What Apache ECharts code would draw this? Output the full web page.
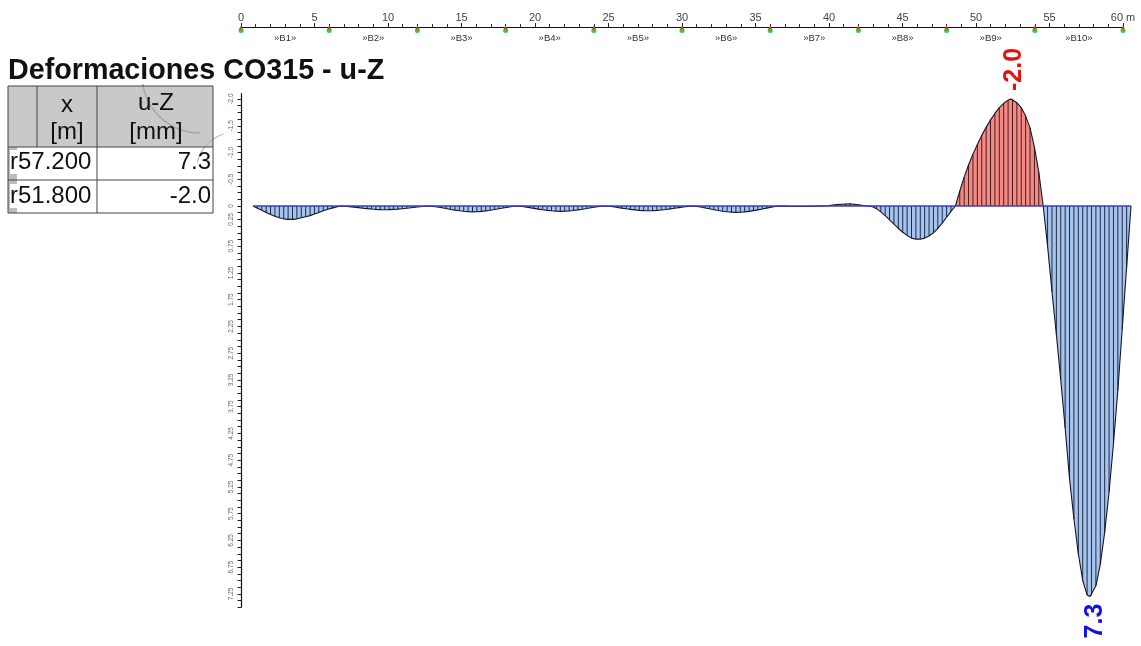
<!DOCTYPE html>
<html>
<head>
<meta charset="utf-8">
<script src="https://cdn.jsdelivr.net/npm/echarts@6/dist/echarts.min.js"></script>
<style>html,body{margin:0;padding:0;background:#fff;}#c{width:1141px;height:646px;}</style>
</head>
<body>
<div id="c"></div>
<script>
// ---- DATA ----
const titleText = 'Deformaciones CO315 - u-Z';
const tableHeader = [['x', '[m]'], ['u-Z', '[mm]']];
const tableRowsX = ['r57.200', 'r51.800'];
const tableRowsU = ['7.3', '-2.0'];
const extremeX = [57.2, 51.8];
const extremeU = [7.3, -2.0];

const rulerTicks = [0, 5, 10, 15, 20, 25, 30, 35, 40, 45, 50, 55, 60];
const supports = [0, 6, 12, 18, 24, 30, 36, 42, 48, 54, 60];
const spanCenters = [3, 9, 15, 21, 27, 33, 39, 45, 51, 57];
const spanLabels = ['»B1»', '»B2»', '»B3»', '»B4»', '»B5»', '»B6»', '»B7»', '»B8»', '»B9»', '»B10»'];

const yTickValues = [-2, -1.5, -1, -0.5, 0, 0.25, 0.75, 1.25, 1.75, 2.25, 2.75, 3.25, 3.75, 4.25, 4.75, 5.25, 5.75, 6.25, 6.75, 7.25];
const yTickLabels = ['-2.0', '-1.5', '-1.0', '-0.5', '0', '0.25', '0.75', '1.25', '1.75', '2.25', '2.75', '3.25', '3.75', '4.25', '4.75', '5.25', '5.75', '6.25', '6.75', '7.25'];

// u-Z [mm] read every 0.3 m, per span (stations 0.3 .. 6.0 of each span)
const uStart = [0];
const uSpan1 = [0.04, 0.08, 0.12, 0.16, 0.19, 0.22, 0.24, 0.25, 0.25, 0.24, 0.22, 0.2, 0.18, 0.15, 0.12, 0.09, 0.06, 0.04, 0.02, 0];
const uSpan2 = [0.004, 0.012, 0.021, 0.031, 0.041, 0.049, 0.057, 0.063, 0.067, 0.07, 0.068, 0.064, 0.058, 0.05, 0.042, 0.033, 0.023, 0.014, 0.006, 0];
const uSpan3 = [0.007, 0.019, 0.033, 0.048, 0.064, 0.077, 0.089, 0.099, 0.106, 0.11, 0.107, 0.1, 0.091, 0.079, 0.066, 0.052, 0.036, 0.022, 0.009, 0];
const uSpan4 = [0.006, 0.017, 0.03, 0.044, 0.058, 0.07, 0.081, 0.09, 0.096, 0.1, 0.097, 0.091, 0.083, 0.072, 0.06, 0.047, 0.033, 0.02, 0.008, 0];
const uSpan5 = [0.005, 0.015, 0.027, 0.04, 0.052, 0.063, 0.073, 0.081, 0.086, 0.09, 0.087, 0.082, 0.075, 0.065, 0.054, 0.042, 0.03, 0.018, 0.007, 0];
const uSpan6 = [0.007, 0.02, 0.036, 0.053, 0.07, 0.084, 0.097, 0.108, 0.115, 0.12, 0.116, 0.109, 0.1, 0.086, 0.072, 0.056, 0.04, 0.024, 0.01, 0];
const uSpan7 = [0.003, 0.006, 0.008, 0.009, 0.009, 0.008, 0.007, 0.005, 0.002, 0, -0.006, -0.016, -0.026, -0.034, -0.038, -0.039, -0.034, -0.023, -0.008, 0];
const uSpan8 = [0.01, 0.05, 0.11, 0.18, 0.26, 0.34, 0.42, 0.49, 0.55, 0.6, 0.62, 0.62, 0.6, 0.56, 0.5, 0.42, 0.32, 0.21, 0.1, 0];
const uSpan9 = [-0.28, -0.54, -0.77, -0.97, -1.15, -1.32, -1.47, -1.61, -1.73, -1.84, -1.92, -1.98, -1.99, -1.93, -1.84, -1.68, -1.46, -1.1, -0.63, 0];
const uSpan10 = [0.75, 1.6, 2.4, 3.25, 4.15, 5.1, 5.85, 6.5, 7.0, 7.27, 7.28, 7.1, 6.7, 6.1, 5.35, 4.45, 3.45, 2.3, 1.15, 0];

// ---- BUILD ----
const uValues = [].concat(uStart, uSpan1, uSpan2, uSpan3, uSpan4, uSpan5, uSpan6, uSpan7, uSpan8, uSpan9, uSpan10);
const stations = uValues.map((v, i) => [Math.round(i * 3) / 10, v]);
const merged = stations.concat(extremeX.map((x, i) => [x, extremeU[i]])).sort((a, b) => a[0] - b[0]);
const posData = merged.map(p => [p[0], Math.max(p[1], 0)]);
const negData = merged.map(p => [p[0], Math.min(p[1], 0)]);
const fineTicks = [];
for (let i = 0; i <= 76; i++) fineTicks.push(-2 + i * 0.125);

const FONT = 'Liberation Sans, Arial, sans-serif';
const chart = echarts.init(document.getElementById('c'));

const tblL = 8, tblR = 213, tblT = 86, hdrB = 147, row1B = 180, tblB = 213, col1 = 37, col2 = 97;
const graphics = [
  {type: 'text', left: 8, top: 57, style: {text: titleText, font: 'bold 28.7px ' + FONT, fill: '#111'}},
  {type: 'rect', shape: {x: tblL, y: tblT, width: tblR - tblL, height: hdrB - tblT}, style: {fill: '#c9c9c9'}},
  {type: 'rect', shape: {x: tblL, y: hdrB, width: tblR - tblL, height: tblB - hdrB}, style: {fill: '#fff'}},
  {type: 'rect', shape: {x: tblL, y: hdrB, width: 9, height: tblB - hdrB}, style: {fill: '#bcbcbc'}},
  {type: 'arc', shape: {cx: 200, cy: 75, r: 58, startAngle: Math.PI * 0.5, endAngle: Math.PI * 0.95}, style: {stroke: '#a8a8a8', lineWidth: 1.5, fill: null}},
  {type: 'arc', shape: {cx: 236, cy: 172, r: 40, startAngle: Math.PI * 1.08, endAngle: Math.PI * 1.4}, style: {stroke: '#b5b5b5', lineWidth: 1.2, fill: null}},
  {type: 'rect', shape: {x: tblL, y: tblT, width: tblR - tblL, height: tblB - tblT}, style: {fill: null, stroke: '#444', lineWidth: 1}},
  {type: 'line', shape: {x1: tblL, y1: hdrB, x2: tblR, y2: hdrB}, style: {stroke: '#444', lineWidth: 1}},
  {type: 'line', shape: {x1: tblL, y1: row1B, x2: tblR, y2: row1B}, style: {stroke: '#444', lineWidth: 1}},
  {type: 'line', shape: {x1: col1, y1: tblT, x2: col1, y2: hdrB}, style: {stroke: '#444', lineWidth: 1}},
  {type: 'line', shape: {x1: col2, y1: tblT, x2: col2, y2: tblB}, style: {stroke: '#444', lineWidth: 1}},
  {type: 'text', x: 67, y: 105, style: {text: tableHeader[0][0], font: '24px ' + FONT, fill: '#111', textAlign: 'center', textVerticalAlign: 'middle'}},
  {type: 'text', x: 67, y: 132, style: {text: tableHeader[0][1], font: '24px ' + FONT, fill: '#111', textAlign: 'center', textVerticalAlign: 'middle'}},
  {type: 'text', x: 156, y: 103, style: {text: tableHeader[1][0], font: '24px ' + FONT, fill: '#111', textAlign: 'center', textVerticalAlign: 'middle'}},
  {type: 'text', x: 156, y: 132, style: {text: tableHeader[1][1], font: '24px ' + FONT, fill: '#111', textAlign: 'center', textVerticalAlign: 'middle'}},
  {type: 'text', x: 10, y: 162, style: {text: tableRowsX[0], font: '24px ' + FONT, fill: '#111', textAlign: 'left', textVerticalAlign: 'middle', backgroundColor: '#fff'}},
  {type: 'text', x: 211, y: 162, style: {text: tableRowsU[0], font: '24px ' + FONT, fill: '#111', textAlign: 'right', textVerticalAlign: 'middle'}},
  {type: 'text', x: 10, y: 196, style: {text: tableRowsX[1], font: '24px ' + FONT, fill: '#111', textAlign: 'left', textVerticalAlign: 'middle', backgroundColor: '#fff'}},
  {type: 'text', x: 211, y: 196, style: {text: tableRowsU[1], font: '24px ' + FONT, fill: '#111', textAlign: 'right', textVerticalAlign: 'middle'}}
];

const option = {
  animation: false,
  backgroundColor: '#fff',
  graphic: graphics,
  grid: [
    {left: 241, right: 18, top: 27, height: 20},
    {left: 253, right: 10, top: 93.65, bottom: 38.75}
  ],
  xAxis: [
    {
      gridIndex: 0, type: 'value', position: 'top', min: 0, max: 60, interval: 5,
      axisLine: {show: true, onZero: false, lineStyle: {color: '#111', width: 1}},
      axisTick: {show: true, length: 4, lineStyle: {color: '#222'}},
      minorTick: {show: true, splitNumber: 5, length: 3, lineStyle: {color: '#333'}},
      splitLine: {show: false},
      axisLabel: {fontSize: 11, color: '#444', margin: 4, fontFamily: FONT,
        formatter: v => (rulerTicks.indexOf(v) === rulerTicks.length - 1 ? v + ' m' : String(v))}
    },
    {gridIndex: 1, type: 'value', min: 0, max: 60, show: false}
  ],
  yAxis: [
    {gridIndex: 0, type: 'value', min: 0, max: 20, inverse: true, show: false},
    {
      gridIndex: 1, type: 'value', position: 'left', offset: 12, min: -2.1, max: 7.5, inverse: true,
      axisLine: {show: true, onZero: false, lineStyle: {color: '#111', width: 1.2}},
      axisTick: {show: true, length: 3.5, customValues: fineTicks, lineStyle: {color: '#222'}},
      splitLine: {show: false},
      axisLabel: {show: true, customValues: yTickValues, rotate: 90, fontSize: 6.5, color: '#666', margin: 6, fontFamily: FONT,
        formatter: v => { const i = yTickValues.findIndex(t => Math.abs(t - v) < 1e-6); return i >= 0 ? yTickLabels[i] : ''; }}
    }
  ],
  series: [
    {type: 'scatter', xAxisIndex: 0, yAxisIndex: 0, symbol: 'circle', symbolSize: 5, itemStyle: {color: '#3cc83c', opacity: 1},
      data: supports.map(x => [x, 3.5]), z: 3},
    {type: 'scatter', xAxisIndex: 0, yAxisIndex: 0, symbol: 'triangle', symbolSize: 4, itemStyle: {color: '#e0401c', opacity: 1},
      data: supports.map(x => [x, 0.6]), z: 4},
    {type: 'scatter', xAxisIndex: 0, yAxisIndex: 0, symbolSize: 1, itemStyle: {color: 'transparent', opacity: 1},
      label: {show: true, position: 'inside', formatter: p => p.name, fontSize: 9.5, color: '#333', opacity: 1, fontFamily: FONT},
      data: spanCenters.map((x, i) => ({name: spanLabels[i], value: [x, 11.5]}))},
    {type: 'line', xAxisIndex: 1, yAxisIndex: 1, data: posData, showSymbol: false, symbol: 'none',
      lineStyle: {width: 0, opacity: 0}, areaStyle: {color: '#a8c4ec', opacity: 1}, z: 1},
    {type: 'line', xAxisIndex: 1, yAxisIndex: 1, data: negData, showSymbol: false, symbol: 'none',
      lineStyle: {width: 0, opacity: 0}, areaStyle: {color: '#f28a86', opacity: 1}, z: 1},
    {type: 'custom', xAxisIndex: 1, yAxisIndex: 1, data: stations, encode: {x: 0, y: 1}, z: 2,
      renderItem: function (params, api) {
        const x = api.value(0), v = api.value(1);
        const p0 = api.coord([x, 0]), p1 = api.coord([x, v]);
        return {type: 'line', shape: {x1: p0[0], y1: p0[1], x2: p1[0], y2: p1[1]},
          style: {stroke: v < 0 ? '#4a1c1c' : '#1c2b4a', lineWidth: 1}};
      }},
    {type: 'line', xAxisIndex: 1, yAxisIndex: 1, data: merged, showSymbol: false, symbol: 'none',
      lineStyle: {color: '#15152a', width: 1.1}, z: 3},
    {type: 'line', xAxisIndex: 1, yAxisIndex: 1, data: [[0, 0], [60, 0]], showSymbol: false, symbol: 'none',
      lineStyle: {color: '#3c3cb4', width: 1.5}, z: 4},
    {type: 'scatter', xAxisIndex: 1, yAxisIndex: 1, symbolSize: 1, itemStyle: {color: 'transparent', opacity: 1}, z: 5,
      data: [
        {value: [extremeX[0], extremeU[0]], name: tableRowsU[0], label: {color: '#1010ee', position: [6, 25]}},
        {value: [extremeX[1], extremeU[1]], name: tableRowsU[1], label: {color: '#e61010', position: [4, -29]}}
      ],
      label: {show: true, formatter: p => p.name, rotate: 90, align: 'center', verticalAlign: 'middle', opacity: 1,
        fontSize: 25, fontWeight: 'bold', fontFamily: FONT}
    }
  ]
};
chart.setOption(option);
</script>
</body>
</html>
